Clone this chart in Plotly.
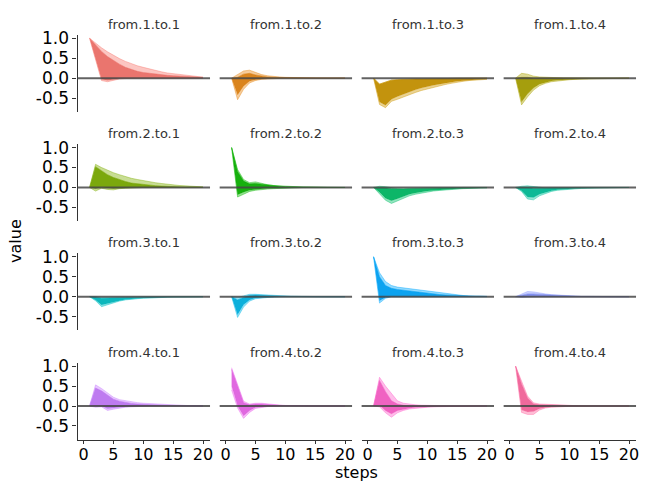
import plotly.graph_objects as go

# ---------------- data ----------------
steps = list(range(1, 21))
panel_titles = [f"from.{i}.to.{j}" for i in range(1, 5) for j in range(1, 5)]
colors = ["#F8766D", "#E68613", "#CD9600", "#ABA300", "#7CAE00", "#0CB702",
          "#00BE67", "#00C19A", "#00BFC4", "#00B8E7", "#00A9FF", "#8494FF",
          "#C77CFF", "#ED68ED", "#FF61CC", "#FF68A1"]
y_ticks = [-0.5, 0.0, 0.5, 1.0]
y_tick_labels = ["-0.5", "0.0", "0.5", "1.0"]
x_ticks = [0, 5, 10, 15, 20]

# each panel: outer upper (hi), dense-core upper (chi), dense-core lower (clo), outer lower (lo)
p11_hi = [1.0, 0.87, 0.76, 0.66, 0.57, 0.49, 0.42, 0.36, 0.31, 0.27, 0.23, 0.19, 0.16, 0.13, 0.11, 0.09, 0.07, 0.05, 0.035, 0.025]
p11_chi = [1.0, 0.84, 0.67, 0.54, 0.44, 0.35, 0.27, 0.21, 0.17, 0.14, 0.12, 0.1, 0.08, 0.07, 0.06, 0.05, 0.04, 0.03, 0.025, 0.02]
p11_clo = [1.0, 0.5, -0.03, -0.06, -0.03, -0.01, 0, 0, 0, 0, 0, 0, 0, 0, 0, 0, 0, 0, 0, 0]
p11_lo = [1.0, 0.45, -0.06, -0.09, -0.05, -0.02, -0.01, 0, 0, 0, 0, 0, 0, 0, 0, 0, 0, 0, 0, 0]

p12_hi = [0, 0.08, 0.18, 0.2, 0.14, 0.09, 0.06, 0.04, 0.03, 0.02, 0.015, 0.01, 0.01, 0.005, 0.005, 0, 0, 0, 0, 0]
p12_chi = [0, 0.02, 0.1, 0.12, 0.08, 0.05, 0.03, 0.02, 0.015, 0.01, 0.005, 0.005, 0, 0, 0, 0, 0, 0, 0, 0]
p12_clo = [0, -0.42, -0.2, -0.08, -0.04, -0.02, -0.01, 0, 0, 0, 0, 0, 0, 0, 0, 0, 0, 0, 0, 0]
p12_lo = [0, -0.54, -0.28, -0.12, -0.06, -0.03, -0.02, -0.01, 0, 0, 0, 0, 0, 0, 0, 0, 0, 0, 0, 0]

p13_hi = [0, -0.15, -0.1, -0.05, -0.04, -0.03, -0.03, -0.02, -0.02, -0.015, -0.01, -0.01, -0.01, -0.005, -0.005, -0.005, 0, 0, 0, 0]
p13_chi = [0, -0.15, -0.1, -0.05, -0.04, -0.03, -0.03, -0.02, -0.02, -0.015, -0.01, -0.01, -0.01, -0.005, -0.005, -0.005, 0, 0, 0, 0]
p13_clo = [0, -0.6, -0.68, -0.53, -0.46, -0.4, -0.34, -0.29, -0.25, -0.21, -0.18, -0.15, -0.12, -0.1, -0.08, -0.06, -0.05, -0.04, -0.03, -0.02]
p13_lo = [0, -0.66, -0.74, -0.58, -0.53, -0.47, -0.41, -0.36, -0.31, -0.27, -0.23, -0.19, -0.16, -0.13, -0.1, -0.08, -0.06, -0.05, -0.04, -0.03]

p14_hi = [0, 0.12, 0.1, 0.05, 0.03, 0.02, 0.01, 0.01, 0.005, 0.005, 0, 0, 0, 0, 0, 0, 0, 0, 0, 0]
p14_chi = [0, 0.02, 0.02, 0.0, 0, 0, 0, 0, 0, 0, 0, 0, 0, 0, 0, 0, 0, 0, 0, 0]
p14_clo = [0, -0.6, -0.4, -0.25, -0.15, -0.1, -0.07, -0.05, -0.04, -0.03, -0.025, -0.02, -0.015, -0.01, -0.01, -0.005, -0.005, 0, 0, 0]
p14_lo = [0, -0.67, -0.47, -0.3, -0.19, -0.13, -0.09, -0.07, -0.05, -0.04, -0.03, -0.025, -0.02, -0.015, -0.01, -0.01, -0.005, -0.005, 0, 0]

p21_hi = [0, 0.58, 0.5, 0.43, 0.37, 0.32, 0.27, 0.23, 0.2, 0.17, 0.14, 0.12, 0.1, 0.08, 0.065, 0.05, 0.04, 0.03, 0.02, 0.015]
p21_chi = [0, 0.52, 0.42, 0.32, 0.25, 0.19, 0.15, 0.11, 0.09, 0.07, 0.055, 0.045, 0.035, 0.025, 0.02, 0.015, 0.01, 0.01, 0.005, 0.005]
p21_clo = [0, -0.03, 0, -0.02, -0.03, -0.02, -0.01, 0, 0, 0, 0, 0, 0, 0, 0, 0, 0, 0, 0, 0]
p21_lo = [0, -0.09, -0.02, -0.05, -0.06, -0.03, -0.02, -0.01, 0, 0, 0, 0, 0, 0, 0, 0, 0, 0, 0, 0]

p22_hi = [1.0, 0.45, 0.2, 0.12, 0.14, 0.1, 0.07, 0.05, 0.04, 0.03, 0.02, 0.015, 0.01, 0.01, 0.005, 0.005, 0, 0, 0, 0]
p22_chi = [1.0, 0.4, 0.16, 0.09, 0.1, 0.08, 0.055, 0.04, 0.03, 0.02, 0.015, 0.01, 0.005, 0.005, 0, 0, 0, 0, 0, 0]
p22_clo = [1.0, -0.18, -0.12, -0.07, -0.05, -0.03, -0.02, -0.015, -0.01, -0.01, -0.005, 0, 0, 0, 0, 0, 0, 0, 0, 0]
p22_lo = [1.0, -0.24, -0.17, -0.1, -0.07, -0.05, -0.04, -0.03, -0.02, -0.015, -0.01, -0.005, 0, 0, 0, 0, 0, 0, 0, 0]

p23_hi = [0, 0.03, 0.02, -0.01, -0.03, -0.03, -0.02, -0.02, -0.015, -0.01, -0.01, -0.01, -0.005, -0.005, 0, 0, 0, 0, 0, 0]
p23_chi = [0, 0.0, -0.01, -0.03, -0.04, -0.04, -0.03, -0.025, -0.02, -0.015, -0.01, -0.01, -0.005, -0.005, 0, 0, 0, 0, 0, 0]
p23_clo = [0, -0.12, -0.27, -0.33, -0.28, -0.22, -0.17, -0.14, -0.11, -0.09, -0.075, -0.06, -0.05, -0.04, -0.03, -0.025, -0.02, -0.015, -0.01, -0.01]
p23_lo = [0, -0.15, -0.32, -0.4, -0.33, -0.26, -0.21, -0.17, -0.14, -0.11, -0.09, -0.075, -0.06, -0.05, -0.04, -0.03, -0.025, -0.02, -0.015, -0.01]

p24_hi = [0, 0.03, 0.04, 0.02, 0.0, -0.01, -0.01, -0.005, 0, 0, 0, 0, 0, 0, 0, 0, 0, 0, 0, 0]
p24_chi = [0, 0.0, 0.0, -0.02, -0.02, -0.02, -0.015, -0.01, -0.01, -0.005, 0, 0, 0, 0, 0, 0, 0, 0, 0, 0]
p24_clo = [0, -0.08, -0.24, -0.25, -0.17, -0.12, -0.08, -0.06, -0.045, -0.035, -0.025, -0.02, -0.015, -0.01, -0.01, -0.005, 0, 0, 0, 0]
p24_lo = [0, -0.1, -0.29, -0.31, -0.21, -0.15, -0.1, -0.07, -0.055, -0.04, -0.03, -0.025, -0.02, -0.015, -0.01, -0.01, -0.005, 0, 0, 0]

p31_hi = [0, 0.0, -0.02, -0.02, -0.02, -0.015, -0.01, -0.01, -0.005, 0, 0, 0, 0, 0, 0, 0, 0, 0, 0, 0]
p31_chi = [0, -0.01, -0.04, -0.04, -0.03, -0.025, -0.02, -0.015, -0.01, -0.01, -0.005, 0, 0, 0, 0, 0, 0, 0, 0, 0]
p31_clo = [0, -0.08, -0.21, -0.17, -0.13, -0.1, -0.07, -0.055, -0.045, -0.035, -0.03, -0.02, -0.015, -0.01, -0.01, -0.005, 0, 0, 0, 0]
p31_lo = [0, -0.1, -0.25, -0.2, -0.15, -0.11, -0.08, -0.06, -0.05, -0.04, -0.03, -0.02, -0.02, -0.015, -0.01, -0.01, -0.005, 0, 0, 0]

p32_hi = [0, -0.02, 0.02, 0.06, 0.06, 0.05, 0.035, 0.025, 0.02, 0.015, 0.01, 0.01, 0.005, 0, 0, 0, 0, 0, 0, 0]
p32_chi = [0, -0.08, -0.02, 0.03, 0.04, 0.03, 0.02, 0.015, 0.01, 0.01, 0.005, 0, 0, 0, 0, 0, 0, 0, 0, 0]
p32_clo = [0, -0.45, -0.2, -0.08, -0.03, -0.02, -0.01, 0, 0, 0, 0, 0, 0, 0, 0, 0, 0, 0, 0, 0]
p32_lo = [0, -0.52, -0.26, -0.11, -0.05, -0.03, -0.02, -0.01, 0, 0, 0, 0, 0, 0, 0, 0, 0, 0, 0, 0]

p33_hi = [1.0, 0.6, 0.38, 0.28, 0.24, 0.22, 0.21, 0.19, 0.17, 0.15, 0.12, 0.1, 0.08, 0.06, 0.04, 0.03, 0.02, 0.015, 0.01, 0.01]
p33_chi = [1.0, 0.5, 0.28, 0.21, 0.18, 0.16, 0.15, 0.13, 0.11, 0.09, 0.07, 0.055, 0.045, 0.035, 0.025, 0.02, 0.015, 0.01, 0.01, 0.005]
p33_clo = [1.0, -0.1, -0.02, 0, 0, 0, 0, 0, 0, 0, 0, 0, 0, 0, 0, 0, 0, 0, 0, 0]
p33_lo = [1.0, -0.16, -0.04, 0, 0, 0, 0, 0, 0, 0, 0, 0, 0, 0, 0, 0, 0, 0, 0, 0]

p34_hi = [0, 0.06, 0.13, 0.12, 0.09, 0.07, 0.05, 0.04, 0.03, 0.02, 0.015, 0.01, 0.01, 0.005, 0, 0, 0, 0, 0, 0]
p34_chi = [0, 0.03, 0.07, 0.07, 0.06, 0.045, 0.035, 0.025, 0.02, 0.015, 0.01, 0.005, 0, 0, 0, 0, 0, 0, 0, 0]
p34_clo = [0, -0.01, 0, 0, 0, 0, 0, 0, 0, 0, 0, 0, 0, 0, 0, 0, 0, 0, 0, 0]
p34_lo = [0, -0.02, -0.01, 0, 0, 0, 0, 0, 0, 0, 0, 0, 0, 0, 0, 0, 0, 0, 0, 0]

p41_hi = [0, 0.53, 0.44, 0.32, 0.22, 0.16, 0.13, 0.1, 0.085, 0.07, 0.06, 0.05, 0.04, 0.03, 0.025, 0.02, 0.015, 0.01, 0.01, 0.005]
p41_chi = [0, 0.45, 0.38, 0.27, 0.17, 0.12, 0.09, 0.065, 0.05, 0.04, 0.03, 0.025, 0.02, 0.015, 0.01, 0.005, 0.005, 0, 0, 0]
p41_clo = [0, 0.0, 0.0, -0.07, -0.05, -0.03, -0.02, -0.01, 0, 0, 0, 0, 0, 0, 0, 0, 0, 0, 0, 0]
p41_lo = [0, -0.03, -0.02, -0.11, -0.08, -0.05, -0.03, -0.02, -0.01, 0, 0, 0, 0, 0, 0, 0, 0, 0, 0, 0]

p42_hi = [0.96, 0.55, 0.12, 0.05, 0.07, 0.07, 0.05, 0.035, 0.025, 0.015, 0.01, 0.01, 0.005, 0, 0, 0, 0, 0, 0, 0]
p42_chi = [0.92, 0.5, 0.08, 0.03, 0.05, 0.05, 0.035, 0.025, 0.015, 0.01, 0.005, 0, 0, 0, 0, 0, 0, 0, 0, 0]
p42_clo = [0.5, 0.0, -0.25, -0.12, -0.04, -0.02, -0.01, 0, 0, 0, 0, 0, 0, 0, 0, 0, 0, 0, 0, 0]
p42_lo = [0.4, -0.05, -0.31, -0.16, -0.06, -0.03, -0.015, -0.01, 0, 0, 0, 0, 0, 0, 0, 0, 0, 0, 0, 0]

p43_hi = [0, 0.72, 0.5, 0.3, 0.13, 0.07, 0.045, 0.03, 0.02, 0.015, 0.01, 0.01, 0.005, 0, 0, 0, 0, 0, 0, 0]
p43_chi = [0, 0.64, 0.36, 0.13, 0.05, 0.02, 0.01, 0, 0, 0, 0, 0, 0, 0, 0, 0, 0, 0, 0, 0]
p43_clo = [0, 0.02, -0.12, -0.2, -0.12, -0.08, -0.055, -0.04, -0.03, -0.02, -0.015, -0.01, -0.01, -0.005, 0, 0, 0, 0, 0, 0]
p43_lo = [0, -0.02, -0.17, -0.28, -0.17, -0.11, -0.075, -0.055, -0.04, -0.03, -0.02, -0.015, -0.01, -0.01, -0.005, 0, 0, 0, 0, 0]

p44_hi = [1.0, 0.6, 0.25, 0.08, 0.05, 0.045, 0.035, 0.025, 0.015, 0.01, 0.01, 0.005, 0, 0, 0, 0, 0, 0, 0, 0]
p44_chi = [1.0, 0.55, 0.2, 0.05, 0.03, 0.025, 0.02, 0.012, 0.005, 0, 0, 0, 0, 0, 0, 0, 0, 0, 0, 0]
p44_clo = [1.0, -0.1, -0.15, -0.14, -0.07, -0.035, -0.02, -0.015, -0.01, -0.005, 0, 0, 0, 0, 0, 0, 0, 0, 0, 0]
p44_lo = [1.0, -0.16, -0.21, -0.21, -0.1, -0.05, -0.03, -0.02, -0.01, -0.005, 0, 0, 0, 0, 0, 0, 0, 0, 0, 0]

bands = [
    (p11_hi, p11_chi, p11_clo, p11_lo), (p12_hi, p12_chi, p12_clo, p12_lo),
    (p13_hi, p13_chi, p13_clo, p13_lo), (p14_hi, p14_chi, p14_clo, p14_lo),
    (p21_hi, p21_chi, p21_clo, p21_lo), (p22_hi, p22_chi, p22_clo, p22_lo),
    (p23_hi, p23_chi, p23_clo, p23_lo), (p24_hi, p24_chi, p24_clo, p24_lo),
    (p31_hi, p31_chi, p31_clo, p31_lo), (p32_hi, p32_chi, p32_clo, p32_lo),
    (p33_hi, p33_chi, p33_clo, p33_lo), (p34_hi, p34_chi, p34_clo, p34_lo),
    (p41_hi, p41_chi, p41_clo, p41_lo), (p42_hi, p42_chi, p42_clo, p42_lo),
    (p43_hi, p43_chi, p43_clo, p43_lo), (p44_hi, p44_chi, p44_clo, p44_lo),
]

# ---------------- layout geometry (pixels) ----------------
W, H = 645, 483
col_left = [78, 220.7, 363.3, 506]
panel_w = 133
row_top = [29, 139.7, 250.3, 361]
panel_h = 78
X_RANGE = [-1, 21.17]
Y_RANGE = [-0.84, 1.09]
FONT = "DejaVu Sans"


def hex_rgb(h):
    h = h.lstrip("#")
    return tuple(int(h[i:i + 2], 16) for i in (0, 2, 4))


def rgba(h, a, dark=0.0):
    r, g, b = hex_rgb(h)
    r, g, b = [int(v * (1 - dark)) for v in (r, g, b)]
    return f"rgba({r},{g},{b},{a})"


fig = go.Figure()
layout = dict(width=W, height=H, margin=dict(l=0, r=0, t=0, b=0),
              paper_bgcolor="white", plot_bgcolor="white", showlegend=False)
annotations = []
shapes = []

for k in range(16):
    r, c = divmod(k, 4)
    idx = k + 1
    xa = "x" if idx == 1 else f"x{idx}"
    ya = "y" if idx == 1 else f"y{idx}"
    hi, chi, clo, lo = bands[k]
    col = colors[k]
    pale = rgba(col, 0.42, 0.0)
    core = rgba(col, 0.95, 0.06)
    edge = rgba(col, 0.6, 0.0)
    common = dict(x=steps, xaxis=xa, yaxis=ya, mode="lines", hoverinfo="skip")
    fig.add_trace(go.Scatter(y=lo, line=dict(color=edge, width=0.7), **common))
    fig.add_trace(go.Scatter(y=clo, line=dict(color=pale, width=0.5),
                             fill="tonexty", fillcolor=pale, **common))
    fig.add_trace(go.Scatter(y=chi, line=dict(color=core, width=0.6),
                             fill="tonexty", fillcolor=core, **common))
    fig.add_trace(go.Scatter(y=hi, line=dict(color=edge, width=0.7),
                             fill="tonexty", fillcolor=pale, **common))

    x0 = col_left[c] / W
    x1 = (col_left[c] + panel_w) / W
    y1 = 1 - row_top[r] / H
    y0 = 1 - (row_top[r] + panel_h) / H
    xkey = "xaxis" if idx == 1 else f"xaxis{idx}"
    ykey = "yaxis" if idx == 1 else f"yaxis{idx}"
    xax = dict(domain=[x0, x1], anchor=ya, range=X_RANGE, showgrid=False,
               zeroline=False, fixedrange=True)
    yax = dict(domain=[y0, y1], anchor=xa, range=Y_RANGE, showgrid=False,
               zeroline=False, fixedrange=True)
    if r == 3:
        xax.update(showline=True, linecolor="#333333", linewidth=1.4,
                   ticks="outside", ticklen=3, tickwidth=1.4, tickcolor="#333333",
                   tickvals=x_ticks, tickfont=dict(family=FONT, size=16, color="black"))
    else:
        xax.update(showticklabels=False, showline=False, ticks="")
    if c == 0:
        yax.update(showline=True, linecolor="#333333", linewidth=1.4,
                   ticks="outside", ticklen=4, tickwidth=1.4, tickcolor="#333333",
                   tickvals=y_ticks, ticktext=y_tick_labels,
                   tickfont=dict(family=FONT, size=17, color="black"))
    else:
        yax.update(showticklabels=False, showline=False, ticks="")
    layout[xkey] = xax
    layout[ykey] = yax

    shapes.append(dict(type="line", xref=f"{xa} domain", yref=ya, x0=0, x1=1,
                       y0=0, y1=0, line=dict(color="rgba(70,70,70,0.85)", width=2),
                       layer="above"))
    annotations.append(dict(text=panel_titles[k], x=(x0 + x1) / 2,
                            y=1 - (row_top[r] - 10.5) / H, xref="paper", yref="paper",
                            showarrow=False, xanchor="center", yanchor="middle",
                            font=dict(family=FONT, size=13, color="#333333")))

annotations.append(dict(text="steps", x=(col_left[0] + col_left[3] + panel_w) / 2 / W,
                        y=1 - 472 / H, xref="paper", yref="paper", showarrow=False,
                        xanchor="center", yanchor="middle",
                        font=dict(family=FONT, size=16, color="black")))
annotations.append(dict(text="value", x=15 / W, y=1 - 238 / H, xref="paper",
                        yref="paper", showarrow=False, textangle=-90,
                        xanchor="center", yanchor="middle",
                        font=dict(family=FONT, size=16, color="black")))

layout["annotations"] = annotations
layout["shapes"] = shapes
fig.update_layout(**layout)

# pull the bottom tick labels a little closer to the axis line
for i in range(13, 17):
    key = f"xaxis{i}"
    try:
        fig.layout[key].ticklabelstandoff = -3
    except Exception:
        pass

fig.write_html("out.html", config={"displayModeBar": False},
               post_script="document.body.style.margin='0px';"
                           "document.body.style.overflow='hidden';")
